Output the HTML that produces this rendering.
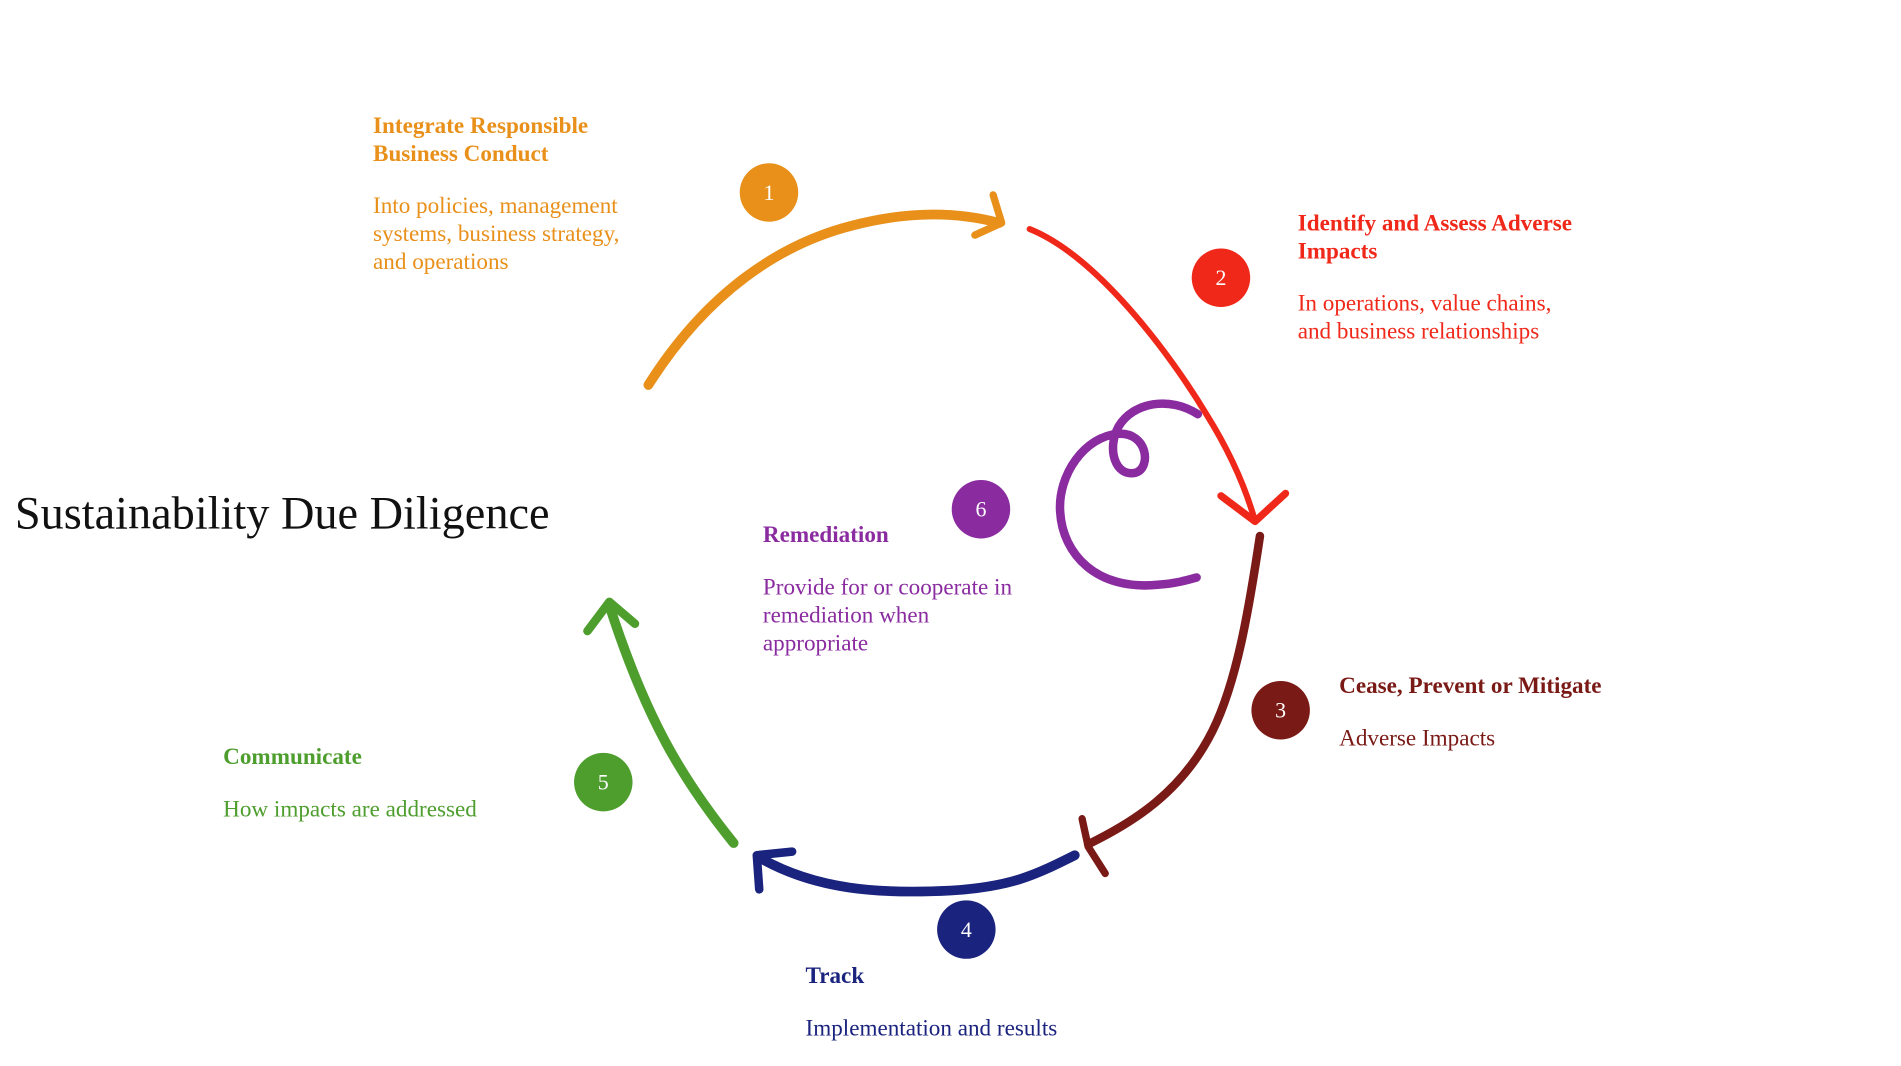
<!DOCTYPE html>
<html><head><meta charset="utf-8"><style>
html,body{margin:0;padding:0;background:#fff;}
svg{display:block;}
text{font-family:"Liberation Serif",serif;font-size:19px;}
.b{font-weight:bold;}
</style></head><body>
<svg width="1901" height="1066" viewBox="0 0 1560 875" xmlns="http://www.w3.org/2000/svg">
<g fill="none" stroke-linecap="round" stroke-linejoin="round">
<path d="M532,316 C580,240 640,200 700,185 C750,172 790,175 820,183" stroke="#E8901A" stroke-width="8"/>
<path d="M815,160 L822,183 L800,193" stroke="#E8901A" stroke-width="6"/>
<path d="M845,188 C900,210 960,290 990,340 C1015,380 1025,410 1030,428" stroke="#F0281A" stroke-width="5"/>
<path d="M1002,407 L1030,428 L1055,405" stroke="#F0281A" stroke-width="6"/>
<path d="M1034,440 C1025,500 1015,560 995,600 C970,650 930,675 893,693" stroke="#7A1A16" stroke-width="7"/>
<path d="M888,672 L893,695 L907,717" stroke="#7A1A16" stroke-width="6"/>
<path d="M882,702 C850,718 830,728 780,731 C720,734 670,730 625,705" stroke="#1A237E" stroke-width="8"/>
<path d="M623,730 L621,702 L650,699" stroke="#1A237E" stroke-width="7"/>
<path d="M602,692 C560,640 530,590 500,497" stroke="#4E9E2E" stroke-width="8"/>
<path d="M482,518 L500,494 L521,512" stroke="#4E9E2E" stroke-width="7"/>
<path d="M983,340 C960,325 930,330 918,350 C908,368 915,392 932,388 C945,384 942,355 918,356 C890,358 868,390 870,420 C872,455 900,485 950,480 C965,479 975,476 982,474" stroke="#8A2BA0" stroke-width="7"/>
</g>
<g font-family="Liberation Serif,serif" font-size="18" fill="#fff" text-anchor="middle">
<circle cx="631" cy="158" r="24" fill="#E8901A"/><text x="631" y="164" fill="#fff" style="font-size:18px">1</text>
<circle cx="1002" cy="228" r="24" fill="#F0281A"/><text x="1002" y="234" fill="#fff" style="font-size:18px">2</text>
<circle cx="1051" cy="583" r="24" fill="#7A1A16"/><text x="1051" y="589" fill="#fff" style="font-size:18px">3</text>
<circle cx="793" cy="763" r="24" fill="#1A237E"/><text x="793" y="769" fill="#fff" style="font-size:18px">4</text>
<circle cx="495" cy="642" r="24" fill="#4E9E2E"/><text x="495" y="648" fill="#fff" style="font-size:18px">5</text>
<circle cx="805" cy="418" r="24" fill="#8A2BA0"/><text x="805" y="424" fill="#fff" style="font-size:18px">6</text>
</g>
<text x="12" y="434" style="font-size:38px" fill="#111">Sustainability Due Diligence</text>
<g fill="#E8901A"><text class="b" x="306" y="109">Integrate Responsible</text><text class="b" x="306" y="132">Business Conduct</text>
<text x="306" y="175">Into policies, management</text><text x="306" y="198">systems,  business strategy,</text><text x="306" y="221">and operations</text></g>
<g fill="#F0281A"><text class="b" x="1065" y="189">Identify and Assess Adverse</text><text class="b" x="1065" y="212">Impacts</text>
<text x="1065" y="255">In operations, value chains,</text><text x="1065" y="278">and business relationships</text></g>
<g fill="#7A1A16"><text class="b" x="1099" y="569">Cease, Prevent or Mitigate</text><text x="1099" y="612">Adverse Impacts</text></g>
<g fill="#1A237E"><text class="b" x="661" y="807">Track</text><text x="661" y="850">Implementation and results</text></g>
<g fill="#4E9E2E"><text class="b" x="183" y="627">Communicate</text><text x="183" y="670">How impacts are addressed</text></g>
<g fill="#8A2BA0"><text class="b" x="626" y="445">Remediation</text><text x="626" y="488">Provide for or cooperate in</text><text x="626" y="511">remediation when</text><text x="626" y="534">appropriate</text></g>
</svg>
</body></html>
